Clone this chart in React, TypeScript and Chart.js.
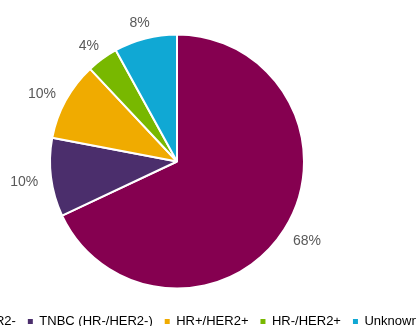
import React, { useEffect, useRef } from "react";
import { Chart, registerables } from "chart.js";

Chart.register(...registerables);

const categories = ["HR+/HER2-", "TNBC (HR-/HER2-)", "HR+/HER2+", "HR-/HER2+", "Unknown"];
const shares = [68, 10, 10, 4, 8];
const sliceColors = ["#850050", "#4B2E6C", "#F0AB00", "#78B800", "#10A8D4"];

const labelPlugin = {
  id: "outsideLabels",
  afterDatasetsDraw(chart: any) {
    const ctx = chart.ctx;
    const meta = chart.getDatasetMeta(0);
    const data = chart.data.datasets[0].data as number[];
    ctx.save();
    ctx.font = "14px 'Liberation Sans', Arial, sans-serif";
    ctx.fillStyle = "#595959";
    ctx.textAlign = "center";
    ctx.textBaseline = "middle";
    meta.data.forEach((arc: any, i: number) => {
      const p = arc.getProps(["x", "y", "startAngle", "endAngle", "outerRadius"], true);
      const mid = (p.startAngle + p.endAngle) / 2;
      const c = Math.cos(mid);
      const s = Math.sin(mid);
      const text = data[i] + "%";
      const w = ctx.measureText(text).width;
      const h = 10;
      const gap = 13;
      const x = p.x + c * (p.outerRadius + gap) + c * w / 2;
      const y = p.y + s * (p.outerRadius + gap) + s * h / 2 + 2;
      ctx.fillText(text, x, y);
    });
    ctx.restore();
  },
};

export default function App() {
  const ref = useRef<HTMLCanvasElement | null>(null);
  useEffect(() => {
    if (!ref.current) return;
    const chart = new Chart(ref.current, {
      type: "pie",
      data: {
        labels: categories,
        datasets: [
          {
            data: shares,
            backgroundColor: sliceColors,
            borderColor: "#ffffff",
            borderWidth: 2,
            radius: 127,
          } as any,
        ],
      },
      options: {
        responsive: false,
        animation: false,
        layout: { padding: { top: 20, left: 0, right: 0, bottom: 0 } },
        plugins: {
          tooltip: { enabled: false },
          legend: {
            position: "bottom",
            labels: {
              font: { size: 13, family: "'Liberation Sans', Arial, sans-serif" },
              color: "#595959",
              boxWidth: 5,
              boxHeight: 5,
              padding: 12,
              generateLabels(ch: any) {
                return categories.map((t, i) => ({
                  text: t,
                  fillStyle: sliceColors[i],
                  strokeStyle: sliceColors[i],
                  lineWidth: 0,
                  hidden: false,
                  index: i,
                }));
              },
            },
          },
        },
      },
      plugins: [labelPlugin],
    });
    return () => chart.destroy();
  }, []);
  return (
    <div style={{ position: "fixed", left: 0, top: 0, width: 416, height: 326, overflow: "hidden", background: "#fff" }}>
      <div style={{ position: "absolute", left: -83, top: 0, width: 520, height: 338 }}>
        <canvas ref={ref} width={520} height={338} style={{ display: "block" }} />
      </div>
    </div>
  );
}
